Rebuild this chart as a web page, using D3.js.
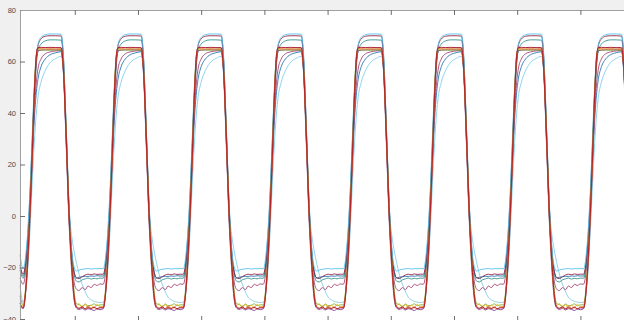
<!DOCTYPE html>
<html>
<head>
<meta charset="utf-8">
<script src="https://cdn.jsdelivr.net/npm/d3@7"></script>
<style>
  body { margin: 0; background: #f0f0f0; }
  svg { display: block; }
  .axis text { font-family: "Liberation Sans", Arial, sans-serif; font-size: 7.5px; fill: #4a4a4a; }
  .axis path { stroke: #a0a0a0; }
  .axis line { stroke: #6e6e6e; }
</style>
</head>
<body>
<div id="chart"></div>
<script>
// time in minutes, temperature in degC
var xDomain = [8, 600];
var yDomain = [-40, 80];
var xTicks = [60, 120, 180, 240, 300, 360, 420, 480, 540, 600];
var yTicks = [-40, -20, 0, 20, 40, 60, 80];

// minute at which each heating ramp starts
var cycleStarts = [11, 87, 163, 239, 315, 391, 467, 543];
// sample times inside one cycle, minutes after the ramp starts
var offsets = [0, 3, 6, 8.5, 10.5, 12.5, 14, 17, 21, 25.5, 31, 36, 38, 41, 43.5, 46.5, 48.5, 50.5, 53, 56, 59, 61.5, 64.5, 67.5, 70, 73];

var names = ["T1", "T2", "T3", "T4", "T5", "T6", "T7", "T8", "T9", "T10", "T11"];
var colors = ["#7ccbea", "#1f6fae", "#9b3d6b", "#2a8c82", "#8e1b3a", "#4dbeee", "#77ac30", "#7e2f8e", "#edb120", "#d95319", "#a2142f"];
var startValues = [-27, -20, -24, -21, -19, -15, -31, -35, -32, -34, -34];

var profiles = [
  [-33.5, -27, -9, 12, 28, 40, 46, 52, 56.5, 59.5, 61.2, 62, 57, 30, 4, -9, -14, -18, -22.5, -26.5, -29.5, -31.5, -32.6, -33.2, -33.4, -33.6],
  [-23.3, -17, -1, 20, 37, 48, 53, 58, 61, 62.6, 63.4, 63.8, 58, 28, 0, -17, -22, -24, -23.8, -23.6, -23.4, -23.5, -23.3, -23.4, -23.2, -23.3],
  [-26.5, -19, -1, 22, 40, 52, 57, 61, 63, 63.7, 64.1, 64.2, 58, 28, 0, -19, -26, -28.4, -29, -27.8, -28.6, -27.2, -27.8, -26.5, -27, -26.4],
  [-24.2, -17, 2, 26, 46, 59, 64, 66.8, 68, 68.4, 68.4, 68.3, 62, 31, 3, -17, -23, -25.3, -25.6, -24.8, -24.4, -24.1, -24.5, -24.2, -24.4, -24.1],
  [-22.6, -15, 4, 28, 48, 61, 66, 68.8, 69.8, 70, 70, 69.9, 63, 32, 4, -16, -22, -24, -24.3, -23.6, -22.9, -22.6, -22.8, -22.5, -22.7, -22.6],
  [-20.5, -13, 6, 30, 50, 62, 66.5, 69.4, 70.4, 70.7, 70.7, 70.6, 64, 33, 5, -15, -20, -21.4, -21, -20.7, -20.5, -20.4, -20.6, -20.4, -20.5, -20.4],
  [-34.5, -24, -1, 25, 48, 62.5, 64.4, 64.4, 64.4, 64.4, 64.4, 64.4, 59, 31, 3, -20, -30, -34, -34.4, -35, -34.2, -34.8, -34.7, -34.1, -34.9, -34.5],
  [-36, -27, -6, 20, 43, 60, 64, 64.5, 64.6, 64.6, 64.6, 64.6, 57, 26, -2, -24, -33, -35.7, -36.3, -35.9, -36.5, -36, -36.3, -36.7, -36.1, -36.4],
  [-35, -26, -4, 22, 45, 62, 64.8, 64.8, 64.8, 64.8, 64.8, 64.8, 58, 28, 0, -23, -32, -34.8, -34, -35.6, -34.3, -35.8, -34.6, -35.7, -34.2, -35.3],
  [-35.5, -25, -2, 24, 47, 63, 65.2, 65.2, 65.3, 65.2, 65.3, 65.2, 59, 30, 2, -21, -31, -35, -36, -35.2, -36.2, -35, -35.9, -35.3, -36.1, -35.4],
  [-35.7, -26, -3, 23, 46, 62, 65.4, 65.5, 65.4, 65.5, 65.4, 65.4, 58.5, 29, 1, -22, -32, -35.4, -35.8, -35.4, -36, -35.6, -35.9, -35.5, -36, -35.7]
];

var width = 624, height = 320;
var marginLeft = 20, marginTop = 10;

var svg = d3.select("#chart").append("svg")
    .attr("width", width)
    .attr("height", height);

var x = d3.scaleLinear().domain(xDomain).range([marginLeft, 643.6]);
var y = d3.scaleLinear().domain(yDomain).range([319, marginTop]);

svg.append("rect")
    .attr("x", marginLeft).attr("y", marginTop)
    .attr("width", width - marginLeft).attr("height", height - marginTop)
    .attr("fill", "#fff");

// each series: start value, then the cycle profile placed at every ramp start
var series = names.map(function(name, i) {
  var pts = [[xDomain[0], startValues[i]]];
  cycleStarts.forEach(function(c) {
    offsets.forEach(function(o, j) { pts.push([c + o, profiles[i][j]]); });
  });
  return {name: name, color: colors[i], points: pts};
});

var line = d3.line()
    .x(function(d) { return x(d[0]); })
    .y(function(d) { return y(d[1]); })
    .curve(d3.curveMonotoneX);

svg.append("g")
    .attr("class", "lines")
  .selectAll("path")
  .data(series)
  .enter().append("path")
    .attr("fill", "none")
    .attr("stroke", function(d) { return d.color; })
    .attr("stroke-width", 1)
    .attr("stroke-opacity", 0.85)
    .attr("d", function(d) { return line(d.points); });

svg.append("g")
    .attr("class", "axis")
    .attr("transform", "translate(" + marginLeft + ",0)")
    .call(d3.axisLeft(y).tickValues(yTicks).tickSizeInner(-5).tickSizeOuter(0).tickPadding(4));

svg.append("g")
    .attr("class", "axis")
    .attr("transform", "translate(0," + marginTop + ")")
    .call(d3.axisTop(x).tickValues(xTicks).tickSizeInner(-5).tickSizeOuter(0).tickFormat(""));

// bottom ticks only, the bottom edge of the box sits below the picture
var bottomAxis = svg.append("g")
    .attr("class", "axis")
    .attr("transform", "translate(0,321)")
    .call(d3.axisBottom(x).tickValues(xTicks).tickSizeInner(-5).tickSizeOuter(0).tickFormat(""));
bottomAxis.select(".domain").remove();
</script>
</body>
</html>
